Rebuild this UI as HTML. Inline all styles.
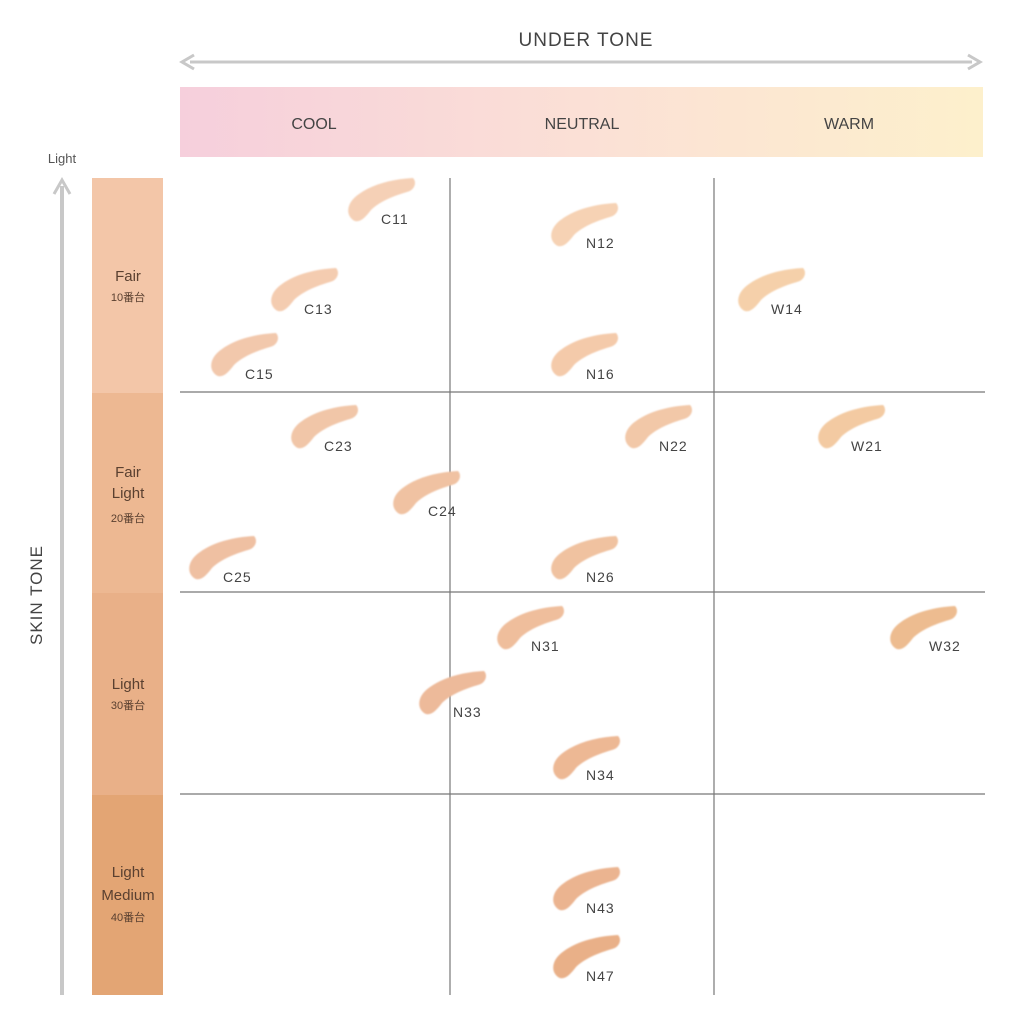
<!DOCTYPE html>
<html><head><meta charset="utf-8"><style>
body{margin:0;background:#fff;}
svg{display:block}
text{font-family:"Liberation Sans","Noto Sans CJK JP",sans-serif;}
</style></head><body>
<svg width="1024" height="1024" viewBox="0 0 1024 1024" xmlns="http://www.w3.org/2000/svg">
<defs>
<linearGradient id="hg" x1="0" x2="1" y1="0" y2="0">
<stop offset="0" stop-color="#f6cfdc"/><stop offset="0.5" stop-color="#fbe0d6"/><stop offset="1" stop-color="#fdf0cc"/>
</linearGradient>
<filter id="bl"><feGaussianBlur stdDeviation="0.9"/></filter>
<path id="sw" d="M8,44 C0,38 2,26 14,18 C28,8 48,3 68,2 C72,6 70,14 62,16 C48,20 34,26 26,34 C20,42 14,48 8,44 Z"/>
</defs>
<text x="586" y="46" font-size="19" fill="#444" text-anchor="middle" letter-spacing="1">UNDER TONE</text>
<line x1="190" y1="62" x2="972" y2="62" stroke="#c8c8c8" stroke-width="3"/>
<path d="M194,55 L182,62 L194,69" fill="none" stroke="#c8c8c8" stroke-width="3"/>
<path d="M968,55 L980,62 L968,69" fill="none" stroke="#c8c8c8" stroke-width="3"/>
<rect x="180" y="87" width="803" height="70" fill="url(#hg)"/>
<text x="314" y="129" font-size="16" fill="#444" text-anchor="middle">COOL</text>
<text x="582" y="129" font-size="16" fill="#444" text-anchor="middle">NEUTRAL</text>
<text x="849" y="129" font-size="16" fill="#444" text-anchor="middle">WARM</text>
<text x="62" y="163" font-size="13" fill="#555" text-anchor="middle">Light</text>
<line x1="62" y1="186" x2="62" y2="995" stroke="#c8c8c8" stroke-width="4"/>
<path d="M54,194 L62,180 L70,194" fill="none" stroke="#c8c8c8" stroke-width="3"/>
<text transform="translate(42,595) rotate(-90)" font-size="17" fill="#444" text-anchor="middle" letter-spacing="1">SKIN TONE</text>
<rect x="92" y="178" width="71" height="215" fill="#f3c6a8"/>
<rect x="92" y="393" width="71" height="200" fill="#edb892"/>
<rect x="92" y="593" width="71" height="202" fill="#e9b088"/>
<rect x="92" y="795" width="71" height="200" fill="#e3a574"/>
<g fill="#5a4030" text-anchor="middle">
<text x="128" y="281" font-size="15">Fair</text><text x="128" y="301" font-size="11">10番台</text>
<text x="128" y="477" font-size="15">Fair</text><text x="128" y="498" font-size="15">Light</text><text x="128" y="522" font-size="11">20番台</text>
<text x="128" y="689" font-size="15">Light</text><text x="128" y="709" font-size="11">30番台</text>
<text x="128" y="877" font-size="15">Light</text><text x="128" y="900" font-size="15">Medium</text><text x="128" y="921" font-size="11">40番台</text>
</g>
<g stroke="#777" stroke-width="1.2">
<line x1="180" y1="392" x2="985" y2="392"/><line x1="180" y1="592" x2="985" y2="592"/><line x1="180" y1="794" x2="985" y2="794"/>
<line x1="450" y1="178" x2="450" y2="995"/><line x1="714" y1="178" x2="714" y2="995"/>
</g>
<g filter="url(#bl)">
<use href="#sw" x="345" y="176" fill="#f5d0b6"/>
<use href="#sw" x="548" y="201" fill="#f6d2b4"/>
<use href="#sw" x="268" y="266" fill="#f4ccb0"/>
<use href="#sw" x="735" y="266" fill="#f5d0aa"/>
<use href="#sw" x="208" y="331" fill="#f2c8ac"/>
<use href="#sw" x="548" y="331" fill="#f4caaa"/>
<use href="#sw" x="288" y="403" fill="#f1c6a8"/>
<use href="#sw" x="622" y="403" fill="#f2c8a8"/>
<use href="#sw" x="815" y="403" fill="#f3caa2"/>
<use href="#sw" x="390" y="469" fill="#f0c2a2"/>
<use href="#sw" x="186" y="534" fill="#efc0a2"/>
<use href="#sw" x="548" y="534" fill="#f0c2a0"/>
<use href="#sw" x="494" y="604" fill="#efbe9c"/>
<use href="#sw" x="887" y="604" fill="#edbc90"/>
<use href="#sw" x="416" y="669" fill="#edba9a"/>
<use href="#sw" x="550" y="734" fill="#edb894"/>
<use href="#sw" x="550" y="865" fill="#ebb490"/>
<use href="#sw" x="550" y="933" fill="#e9b088"/>
</g>
<g font-size="14" fill="#444" letter-spacing="1">
<text x="381" y="224">C11</text><text x="586" y="248">N12</text>
<text x="304" y="314">C13</text><text x="771" y="314">W14</text>
<text x="245" y="379">C15</text><text x="586" y="379">N16</text>
<text x="324" y="451">C23</text><text x="659" y="451">N22</text><text x="851" y="451">W21</text>
<text x="428" y="516">C24</text>
<text x="223" y="582">C25</text><text x="586" y="582">N26</text>
<text x="531" y="651">N31</text><text x="929" y="651">W32</text>
<text x="453" y="717">N33</text><text x="586" y="780">N34</text>
<text x="586" y="913">N43</text><text x="586" y="981">N47</text>
</g>
</svg>
</body></html>
